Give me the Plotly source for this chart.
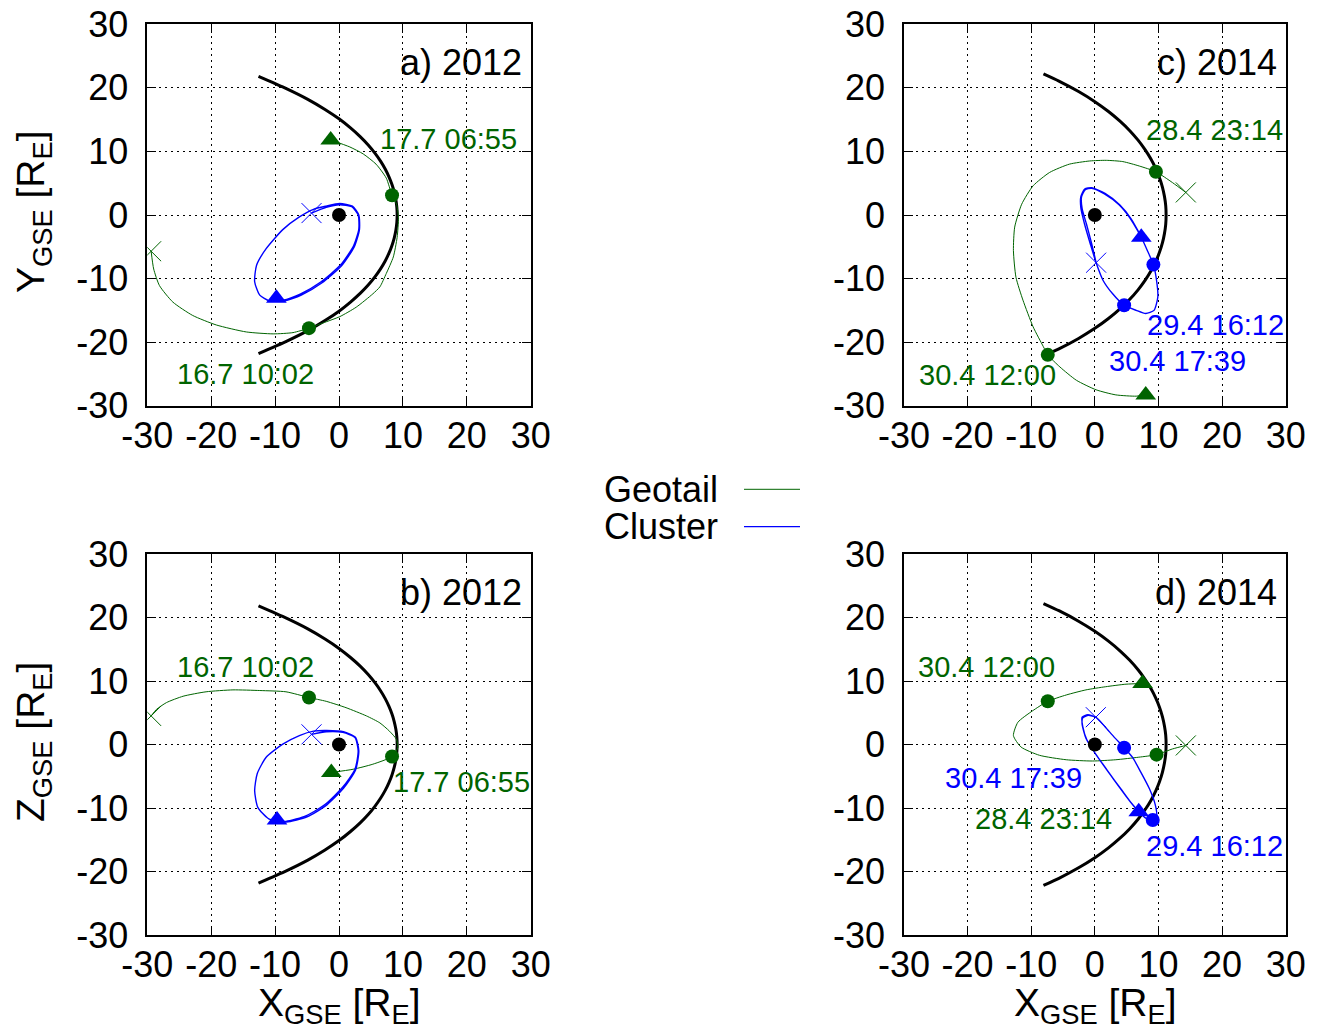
import plotly.graph_objects as go

# ---------------- data (GSE coordinates, Earth radii) ----------------
TICK_VALS = [-30, -20, -10, 0, 10, 20, 30]
TICK_TEXT = ["-30", "-20", "-10", "0", "10", "20", "30"]

# model magnetopause, 2012 event
MP2012_X = [-12.60, -8.24, -4.88, -2.19, 0.00, 1.80, 3.31, 4.57, 5.62, 6.50, 7.23, 7.82, 8.29, 8.65, 8.90, 9.05,
            9.10,
            9.05, 8.90, 8.65, 8.29, 7.82, 7.23, 6.50, 5.62, 4.57, 3.31, 1.80, 0.00, -2.19, -4.88, -8.24, -12.60]
MP2012_Y = [21.82, 19.89, 18.20, 16.61, 15.13, 13.70, 12.34, 11.02, 9.73, 8.47, 7.23, 6.00, 4.79, 3.58, 2.39, 1.19,
            0.00,
            -1.19, -2.39, -3.58, -4.79, -6.00, -7.23, -8.47, -9.73, -11.02, -12.34, -13.70, -15.13, -16.61, -18.20,
            -19.89, -21.82]

# model magnetopause, 2014 event
MP2014_X = [-8.08, -5.65, -2.56, 0.00, 2.14, 3.95, 5.49, 6.79, 7.89, 8.81, 9.56, 10.16, 10.62, 10.94, 11.14,
            11.20,
            11.14, 10.94, 10.62, 10.16, 9.56, 8.81, 7.89, 6.79, 5.49, 3.95, 2.14, 0.00, -2.56, -5.65, -8.08]
MP2014_Y = [22.20, 21.07, 19.42, 17.83, 16.28, 14.76, 13.26, 11.77, 10.28, 8.81, 7.34, 5.87, 4.40, 2.93, 1.47,
            0.00,
            -1.47, -2.93, -4.40, -5.87, -7.34, -8.81, -10.28, -11.77, -13.26, -14.76, -16.28, -17.83, -19.42,
            -21.07, -22.20]

# Geotail orbit 2012 (X-Y and X-Z)
GEO12_X_XY = [-29.4, -29.0, -28.1, -26.0, -22.9, -19.2, -14.5, -10.3, -7.2, -4.7, -2.0, 0.1, 2.7, 5.3, 6.4, 7.4,
              8.5, 9.1, 9.3, 9.0, 8.3, 7.4, 5.8, 3.8, 1.7, -1.3]
GEO12_Y = [-5.7, -8.5, -11.1, -13.7, -15.8, -17.3, -18.4, -18.7, -18.5, -17.8, -16.8, -16.0, -14.5, -12.4, -11.3,
           -9.2, -6.6, -3.5, -0.4, 1.7, 3.1, 5.8, 8.0, 9.6, 10.7, 11.8]
GEO12_X_XZ = [-29.4, -28.6, -27.0, -24.4, -20.8, -16.6, -12.4, -8.3, -4.7, -2.0, 1.1, 4.3, 6.4, 7.9, 9.0, 9.2,
              8.3, 5.3, 2.2, -1.2]
GEO12_Z = [4.5, 5.5, 6.6, 7.6, 8.3, 8.6, 8.5, 8.3, 7.4, 6.8, 5.8, 4.5, 3.4, 2.1, 0.8, -0.5, -1.9, -3.1, -3.9, -4.4]

# Cluster orbit 2012
CLU12_X_XY = [-4.3, -2.0, 0.1, 2.0, 3.0, 3.1, 2.3, 0.3, -2.8, -6.0, -8.8, -10.9, -12.4, -13.2, -12.9, -11.4, -8.8,
              -6.2, -4.0, -2.0, 0.1, 2.1, 3.1, 3.2, 2.4, 0.4, -2.7, -5.9, -8.6, -9.8]
CLU12_Y = [0.3, 1.2, 1.6, 1.3, 0.0, -2.2, -4.8, -7.8, -10.5, -12.4, -13.4, -13.5, -12.6, -10.5, -7.9, -5.3, -2.3,
           -0.3, 0.9, 1.4, 1.8, 1.4, 0.0, -2.3, -5.0, -8.0, -10.7, -12.6, -13.5, -13.1]
CLU12_X_XZ = [-4.3, -2.0, 0.6, 2.5, 3.0, 2.5, 0.6, -2.0, -5.1, -8.3, -11.0, -12.7, -13.2, -12.8, -11.4, -8.8, -6.2,
              -4.0, -1.9, 0.7, 2.6, 3.1, 2.6, 0.7, -1.9, -5.0, -8.2, -9.7]
CLU12_Z = [1.6, 2.0, 1.9, 1.1, -1.0, -3.9, -6.7, -9.3, -11.2, -12.1, -11.7, -9.9, -7.3, -4.6, -2.0, 0.05, 1.4,
           2.1, 2.2, 2.0, 1.1, -1.0, -4.0, -6.9, -9.5, -11.4, -12.2, -11.9]

# Geotail orbit 2014
GEO14_X_XY = [14.3, 12.2, 9.6, 7.0, 4.4, 1.8, -0.8, -4.0, -7.1, -9.7, -11.5, -12.6, -12.8, -12.4, -11.3, -9.7,
              -8.1, -7.4, -5.5, -2.9, 0.2, 3.3, 6.5, 8.0]
GEO14_Y = [3.55, 5.1, 6.8, 7.7, 8.4, 8.6, 8.5, 8.0, 6.7, 4.6, 1.7, -1.9, -5.6, -9.8, -13.4, -17.6, -20.7, -22.0,
           -23.9, -26.0, -27.5, -28.3, -28.5, -28.3]
GEO14_X_XZ = [14.3, 12.2, 9.7, 6.9, 3.3, -0.4, -4.5, -8.7, -11.6, -12.8, -12.1, -9.8, -7.4, -4.5, -1.4, 1.7, 4.9,
              7.5]
GEO14_Z = [-0.15, -0.7, -1.6, -2.0, -2.4, -2.6, -2.4, -1.7, -0.4, 1.4, 3.5, 5.3, 6.8, 7.8, 8.6, 9.1, 9.5, 9.6]

# Cluster orbit 2014
CLU14_X_XY = [0.2, -0.5, -1.3, -2.0, -2.1, -1.5, -0.5, 1.5, 3.8, 5.6, 6.8, 7.3, 8.3, 9.2, 9.7, 9.9, 9.3, 8.0, 6.5,
              4.6, 2.8, 1.3, 0.2, -0.7, -1.6, -2.2, -2.2, -1.6, -0.5, 1.6, 3.9, 5.7, 6.9, 7.3]
CLU14_Y = [-7.5, -4.5, -1.5, 1.0, 2.8, 4.0, 4.2, 3.3, 1.6, -0.6, -2.6, -3.5, -5.7, -7.8, -10.3, -12.9, -15.0, -15.5,
           -15.0, -14.2, -12.4, -10.3, -7.5, -4.6, -1.5, 1.1, 2.9, 4.1, 4.3, 3.4, 1.6, -0.6, -2.7, -3.5]
CLU14_X_XZ = [0.15, -1.0, -1.9, -2.0, -1.4, 0.0, 1.9, 3.9, 5.7, 6.9, 8.0, 9.1, 9.7, 9.5, 8.6, 7.2, 5.9, 4.6, 3.0,
              1.6, 0.15, -1.1, -2.0, -1.9, -1.2, 0.2, 2.1, 4.1, 5.8, 6.9]
CLU14_Z = [4.3, 4.6, 4.2, 3.2, 1.0, -1.3, -4.0, -6.8, -9.2, -10.6, -11.6, -11.9, -11.3, -9.5, -7.0, -4.3, -2.0,
           -0.5, 1.2, 2.8, 4.3, 4.7, 4.3, 2.8, 0.6, -1.6, -4.3, -7.0, -9.3, -10.6]

# marked times
GEO12_EVT_X = [-4.7, 8.3]
GEO12_EVT_Y = [-17.8, 3.1]
GEO12_EVT_Z = [7.4, -1.9]
GEO14_EVT_X = [9.6, -7.4]
GEO14_EVT_Y = [6.8, -22.0]
GEO14_EVT_XZ = [9.7, -7.4]
GEO14_EVT_Z = [-1.6, 6.8]
CLU14_EVT_X = [9.2, 4.6]
CLU14_EVT_Y = [-7.8, -14.2]
CLU14_EVT_XZ = [9.1, 4.6]
CLU14_EVT_Z = [-11.9, -0.5]

EARTH_X = [0.0]
EARTH_Y = [0.0]

PANEL_TITLES = ["a) 2012", "c) 2014", "b) 2012", "d) 2014"]
SERIES_NAMES = ["Geotail", "Cluster"]

# ---------------- style ----------------
FONT = "Liberation Sans, Arial, Helvetica, sans-serif"
GREEN = "#006400"
BLUE = "#0000ff"
W, H = 1330, 1032

fig = go.Figure()


def add_panel(n, mp_x, mp_y, gx, gy, cx, cy, gex, gey, cex, cey):
    xa = "x" if n == 1 else f"x{n}"
    ya = "y" if n == 1 else f"y{n}"
    kw = dict(xaxis=xa, yaxis=ya, showlegend=False, hoverinfo="skip")
    fig.add_trace(go.Scatter(x=mp_x, y=mp_y, mode="lines",
                             line=dict(color="black", width=3, shape="spline", smoothing=0.6), **kw))
    fig.add_trace(go.Scatter(x=gx, y=gy, mode="lines",
                             line=dict(color=GREEN, width=1, shape="spline", smoothing=0.6), **kw))
    fig.add_trace(go.Scatter(x=cx, y=cy, mode="lines",
                             line=dict(color=BLUE, width=1.4, shape="spline", smoothing=0.6), **kw))
    # start markers
    fig.add_trace(go.Scatter(x=[gx[0]], y=[gy[0]], mode="markers",
                             marker=dict(symbol="x-thin", size=20, line=dict(width=1, color=GREEN)), **kw))
    fig.add_trace(go.Scatter(x=[cx[0]], y=[cy[0]], mode="markers",
                             marker=dict(symbol="x-thin", size=20, line=dict(width=1, color=BLUE)), **kw))
    # end markers
    fig.add_trace(go.Scatter(x=[gx[-1]], y=[gy[-1]], mode="markers",
                             marker=dict(symbol="triangle-up", size=18, color=GREEN, line=dict(width=0)), **kw))
    fig.add_trace(go.Scatter(x=[cx[-1]], y=[cy[-1]], mode="markers",
                             marker=dict(symbol="triangle-up", size=18, color=BLUE, line=dict(width=0)), **kw))
    if gex:
        fig.add_trace(go.Scatter(x=gex, y=gey, mode="markers",
                                 marker=dict(symbol="circle", size=14, color=GREEN, line=dict(width=0)), **kw))
    if cex:
        fig.add_trace(go.Scatter(x=cex, y=cey, mode="markers",
                                 marker=dict(symbol="circle", size=14, color=BLUE, line=dict(width=0)), **kw))
    fig.add_trace(go.Scatter(x=EARTH_X, y=EARTH_Y, mode="markers",
                             marker=dict(symbol="circle", size=14, color="black", line=dict(width=0)), **kw))


add_panel(1, MP2012_X, MP2012_Y, GEO12_X_XY, GEO12_Y, CLU12_X_XY, CLU12_Y, GEO12_EVT_X, GEO12_EVT_Y, [], [])
add_panel(2, MP2014_X, MP2014_Y, GEO14_X_XY, GEO14_Y, CLU14_X_XY, CLU14_Y, GEO14_EVT_X, GEO14_EVT_Y,
          CLU14_EVT_X, CLU14_EVT_Y)
add_panel(3, MP2012_X, MP2012_Y, GEO12_X_XZ, GEO12_Z, CLU12_X_XZ, CLU12_Z, GEO12_EVT_X, GEO12_EVT_Z, [], [])
add_panel(4, MP2014_X, MP2014_Y, GEO14_X_XZ, GEO14_Z, CLU14_X_XZ, CLU14_Z, GEO14_EVT_XZ, GEO14_EVT_Z,
          CLU14_EVT_XZ, CLU14_EVT_Z)

# ---------------- axes ----------------
XL = [147.3 / W, 530.7 / W]
XR = [904.0 / W, 1285.7 / W]
YT = [1 - 405.7 / H, 1 - 24.3 / H]
YB = [1 - 935.0 / H, 1 - 554.0 / H]


def ax(domain, anchor, standoff):
    return dict(domain=domain, anchor=anchor, range=[-30, 30], tickvals=TICK_VALS, ticktext=TICK_TEXT,
                ticks="inside", ticklen=9, tickwidth=1, tickcolor="black", showline=True, linewidth=1.5,
                linecolor="black", mirror="ticks", showgrid=True, gridcolor="black", gridwidth=1,
                griddash="2px,4px", zeroline=False, fixedrange=True, ticklabelstandoff=standoff,
                automargin=False, tickangle=0,
                tickfont=dict(family=FONT, size=36, color="black"))


fig.update_layout(
    template="none",
    xaxis=ax(XL, "y", -3), yaxis=ax(YT, "x", 10),
    xaxis2=ax(XR, "y2", -3), yaxis2=ax(YT, "x2", 10),
    xaxis3=ax(XL, "y3", -3), yaxis3=ax(YB, "x3", 10),
    xaxis4=ax(XR, "y4", -3), yaxis4=ax(YB, "x4", 10),
)

ann = []
# panel titles
for i, t in enumerate(PANEL_TITLES):
    n = i + 1
    xr = "x" if n == 1 else f"x{n}"
    yr = "y" if n == 1 else f"y{n}"
    ann.append(dict(text=t, x=28.9, y=24.0, xref=xr, yref=yr, xanchor="right", yanchor="middle",
                    showarrow=False, font=dict(family=FONT, size=36, color="black")))

LABELS = [
    ("17.7 06:55", 1, 6.1, 12.0, GREEN),
    ("16.7 10:02", 1, -25.6, -25.0, GREEN),
    ("16.7 10:02", 3, -25.6, 12.2, GREEN),
    ("17.7 06:55", 3, 8.2, -5.9, GREEN),
    ("28.4 23:14", 2, 7.8, 13.3, GREEN),
    ("29.4 16:12", 2, 7.9, -17.3, BLUE),
    ("30.4 17:39", 2, 1.9, -22.9, BLUE),
    ("30.4 12:00", 2, -28.0, -25.1, GREEN),
    ("30.4 12:00", 4, -28.1, 12.2, GREEN),
    ("30.4 17:39", 4, -23.9, -5.2, BLUE),
    ("28.4 23:14", 4, -19.2, -11.8, GREEN),
    ("29.4 16:12", 4, 7.8, -16.0, BLUE),
]
for t, n, x, y, c in LABELS:
    xr = "x" if n == 1 else f"x{n}"
    yr = "y" if n == 1 else f"y{n}"
    ann.append(dict(text=t, x=x, y=y, xref=xr, yref=yr, xanchor="left", yanchor="middle", showarrow=False,
                    font=dict(family=FONT, size=29, color=c)))

# axis titles
TF = dict(family=FONT, size=39, color="black")
ann.append(dict(text="Y<sub>GSE</sub> [R<sub>E</sub>]", x=33 / W, y=1 - 212 / H, xref="paper", yref="paper",
                textangle=-90, showarrow=False, xanchor="center", yanchor="middle", font=TF))
ann.append(dict(text="Z<sub>GSE</sub> [R<sub>E</sub>]", x=33 / W, y=1 - 742 / H, xref="paper", yref="paper",
                textangle=-90, showarrow=False, xanchor="center", yanchor="middle", font=TF))
for cx in (339.2, 1095.3):
    ann.append(dict(text="X<sub>GSE</sub> [R<sub>E</sub>]", x=cx / W, y=1 - 1005 / H, xref="paper",
                    yref="paper", showarrow=False, xanchor="center", yanchor="middle", font=TF))

# legend (text left of sample line, gnuplot style)
shapes = []
for name, ypx, col, lw in ((SERIES_NAMES[0], 489.3, GREEN, 1), (SERIES_NAMES[1], 526.7, BLUE, 1.3)):
    ann.append(dict(text=name, x=720 / W, y=1 - ypx / H, xref="paper", yref="paper", xanchor="right",
                    yanchor="middle", showarrow=False, font=dict(family=FONT, size=36, color="black")))
    shapes.append(dict(type="line", xref="paper", yref="paper", x0=744 / W, x1=800 / W, y0=1 - ypx / H,
                       y1=1 - ypx / H, line=dict(color=col, width=lw)))

fig.update_layout(width=W, height=H, margin=dict(l=0, r=0, t=0, b=0, pad=0, autoexpand=False),
                  paper_bgcolor="white", plot_bgcolor="white", annotations=ann, shapes=shapes,
                  showlegend=False, font=dict(family=FONT))

fig.write_html("out.html", post_script="document.body.style.margin='0';",
               config={"displayModeBar": False})
